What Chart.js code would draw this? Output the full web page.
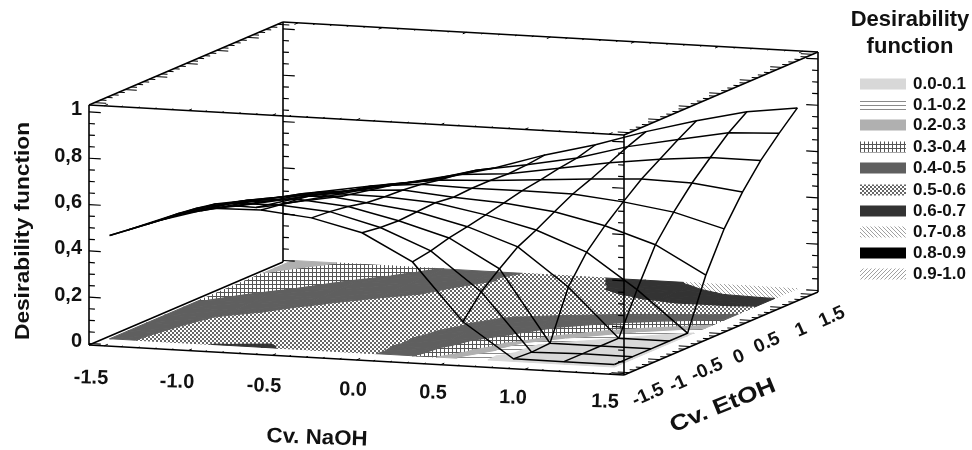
<!DOCTYPE html>
<html>
<head>
<meta charset="utf-8">
<title>Desirability function</title>
<script src="https://cdn.jsdelivr.net/npm/chart.js@4/dist/chart.umd.js"></script>
<style>
  html, body { margin: 0; padding: 0; background: #fff; }
  canvas { display: block; }
</style>
</head>
<body>
<canvas id="chart" width="972" height="450"></canvas>
<script>
// grid of the surface
const naohValues = [-1.5, -1.2, -0.9, -0.6, -0.3, 0, 0.3, 0.6, 0.9, 1.2, 1.5];
const etohValues = [-1.5, -1.2, -0.9, -0.6, -0.3, 0, 0.3, 0.6, 0.9, 1.2, 1.5];

const zNaohM15 = [0.46, 0.45, 0.44, 0.43, 0.42, 0.398, 0.377, 0.351, 0.31, 0.285, 0.265];
const zNaohM12 = [0.538, 0.533, 0.522, 0.507, 0.476, 0.45, 0.419, 0.393, 0.372, 0.335, 0.305];
const zNaohM09 = [0.602, 0.59, 0.569, 0.543, 0.517, 0.496, 0.47, 0.434, 0.413, 0.387, 0.365];
const zNaohM06 = [0.607, 0.594, 0.585, 0.574, 0.543, 0.522, 0.507, 0.481, 0.455, 0.429, 0.408];
const zNaohM03 = [0.585, 0.578, 0.566, 0.549, 0.541, 0.536, 0.527, 0.512, 0.502, 0.486, 0.462];
const zNaoh00 = [0.533, 0.522, 0.517, 0.522, 0.527, 0.517, 0.522, 0.522, 0.517, 0.522, 0.531];
const zNaohP03 = [0.419, 0.433, 0.455, 0.47, 0.487, 0.505, 0.524, 0.537, 0.553, 0.564, 0.587];
const zNaohP06 = [0.173, 0.269, 0.334, 0.395, 0.434, 0.479, 0.522, 0.553, 0.589, 0.625, 0.656];
const zNaohP09 = [0.025, 0.02, 0.025, 0.234, 0.351, 0.431, 0.5, 0.565, 0.616, 0.668, 0.715];
const zNaohP12 = [0.025, 0.025, 0.025, 0.025, 0.201, 0.361, 0.468, 0.56, 0.636, 0.709, 0.766];
const zNaohP15 = [0.025, 0.025, 0.025, 0.025, 0.025, 0.242, 0.408, 0.533, 0.636, 0.719, 0.795];

const bandLevels = [0, 0.1, 0.2, 0.3, 0.4, 0.5, 0.6, 0.7, 0.8, 0.9, 1];
const bandLabels = ["0.0-0.1", "0.1-0.2", "0.2-0.3", "0.3-0.4", "0.4-0.5", "0.5-0.6", "0.6-0.7", "0.7-0.8", "0.8-0.9", "0.9-1.0"];

const naohTickLabels = ["-1.5", "-1.0", "-0.5", "0.0", "0.5", "1.0", "1.5"];
const etohTickLabels = ["-1.5", "-1", "-0.5", "0", "0.5", "1", "1.5"];
const zTickValues = [0, 0.2, 0.4, 0.6, 0.8, 1];
const zTickLabels = ["0", "0,2", "0,4", "0,6", "0,8", "1"];

const zRows = [zNaohM15, zNaohM12, zNaohM09, zNaohM06, zNaohM03, zNaoh00, zNaohP03, zNaohP06, zNaohP09, zNaohP12, zNaohP15];

// the box runs a bit past the data on every side
const axisLo = -1.59;
const axisHi = 1.59;
const zLo = -0.0065;
const zHi = 1.03;
const floorZ = 0.014;

function project(a, b, z) {
  const u = (a - axisLo) / (axisHi - axisLo);
  const v = (b - axisLo) / (axisHi - axisLo);
  const w = (z - zLo) / (zHi - zLo);
  return { x: 89 + 535 * u + 194 * v, y: 345 + 30 * u - 83 * v - 240 * w };
}

function makePattern(size, paint) {
  const c = document.createElement("canvas");
  c.width = size;
  c.height = size;
  const ctx = c.getContext("2d");
  ctx.fillStyle = "#fff";
  ctx.fillRect(0, 0, size, size);
  paint(ctx);
  return document.createElement("canvas").getContext("2d").createPattern(c, "repeat");
}

function diagonal(color, up) {
  return makePattern(4, (ctx) => {
    ctx.fillStyle = color;
    for (let i = 0; i < 4; i++) {
      ctx.fillRect(i, up ? 3 - i : i, 1, 1);
    }
  });
}

const bandFills = [
  "#d8d8d8",
  makePattern(4, (ctx) => { ctx.fillStyle = "#8a8a8a"; ctx.fillRect(0, 1, 4, 1); }),
  "#b0b0b0",
  makePattern(4, (ctx) => { ctx.fillStyle = "#555555"; ctx.fillRect(0, 0, 4, 1); ctx.fillRect(0, 0, 1, 4); }),
  "#5f5f5f",
  makePattern(4, (ctx) => { ctx.fillStyle = "#666666"; ctx.fillRect(0, 0, 2, 2); ctx.fillRect(2, 2, 2, 2); }),
  "#333333",
  diagonal("#a0a0a0", false),
  "#000000",
  diagonal("#a0a0a0", true)
];

// keep the part of a triangle that lies between two levels
function clipAbove(poly, level, sign) {
  const out = [];
  poly.forEach((p, i) => {
    const q = poly[(i + 1) % poly.length];
    const pIn = sign * (p.z - level) >= 0;
    const qIn = sign * (q.z - level) >= 0;
    if (pIn) out.push(p);
    if (pIn !== qIn) {
      const t = (level - p.z) / (q.z - p.z);
      out.push({ a: p.a + t * (q.a - p.a), b: p.b + t * (q.b - p.b), z: level });
    }
  });
  return out;
}

function bandPolygons(lo, hi) {
  const polys = [];
  const node = (i, j) => ({ a: naohValues[i], b: etohValues[j], z: zRows[i][j] });
  for (let i = 0; i < naohValues.length - 1; i++) {
    for (let j = 0; j < etohValues.length - 1; j++) {
      const tris = [
        [node(i, j), node(i + 1, j), node(i + 1, j + 1)],
        [node(i, j), node(i + 1, j + 1), node(i, j + 1)]
      ];
      tris.forEach((tri) => {
        const clipped = clipAbove(clipAbove(tri, lo, 1), hi, -1);
        if (clipped.length > 2) polys.push(clipped);
      });
    }
  }
  return polys;
}

const datasets = [];

function addLine(points, width, order) {
  datasets.push({
    data: points,
    showLine: true,
    borderColor: "#000",
    borderWidth: width,
    pointRadius: 0,
    fill: false,
    tension: 0,
    order: order
  });
}

// floor contours
bandLabels.forEach((label, k) => {
  bandPolygons(bandLevels[k], bandLevels[k + 1]).forEach((poly) => {
    const pts = poly.map((p) => project(p.a, p.b, floorZ));
    pts.push(pts[0]);
    datasets.push({
      label: label,
      data: pts,
      showLine: true,
      borderColor: bandFills[k],
      backgroundColor: bandFills[k],
      borderWidth: 1,
      pointRadius: 0,
      fill: "shape",
      tension: 0,
      order: 30
    });
  });
});

// wire mesh
naohValues.forEach((a, i) => {
  addLine(etohValues.map((b, j) => project(a, b, zRows[i][j])), 1.5, 20);
});
etohValues.forEach((b, j) => {
  addLine(naohValues.map((a, i) => project(a, b, zRows[i][j])), 1.5, 20);
});

// box edges
function edge(a1, b1, z1, a2, b2, z2) {
  addLine([project(a1, b1, z1), project(a2, b2, z2)], 1.6, 10);
}
edge(axisLo, axisLo, zLo, axisHi, axisLo, zLo);
edge(axisHi, axisLo, zLo, axisHi, axisHi, zLo);
edge(axisLo, axisLo, zLo, axisLo, axisHi, zLo);
edge(axisLo, axisLo, zHi, axisHi, axisLo, zHi);
edge(axisHi, axisLo, zHi, axisHi, axisHi, zHi);
edge(axisHi, axisHi, zHi, axisLo, axisHi, zHi);
edge(axisLo, axisHi, zHi, axisLo, axisLo, zHi);
edge(axisLo, axisLo, zLo, axisLo, axisLo, zHi);
edge(axisLo, axisHi, zLo, axisLo, axisHi, zHi);
edge(axisHi, axisLo, zLo, axisHi, axisLo, zHi);
edge(axisHi, axisHi, zLo, axisHi, axisHi, zHi);

// ticks, kept as one broken line per group
const gap = { x: NaN, y: NaN };
const zTicks = [];
[[axisLo, axisLo, 1], [axisLo, axisHi, 1], [axisHi, axisLo, -1], [axisHi, axisHi, -1]].forEach(([a, b, dir]) => {
  for (let k = 0; k <= 20; k++) {
    const z = k * 0.05;
    const len = k % 4 === 0 ? 0.07 : 0.035;
    zTicks.push(project(a, b, z), project(a + dir * len, b, z), gap);
  }
});
addLine(zTicks, 1.2, 10);

const edgeTicks = [];
[zLo, zHi].forEach((z) => {
  for (let k = -15; k <= 15; k++) {
    const t = k / 10;
    const len = k % 5 === 0 ? 0.06 : 0.03;
    edgeTicks.push(project(t, axisLo, z), project(t, axisLo + len, z), gap);
    if (z === zHi) edgeTicks.push(project(t, axisHi, z), project(t, axisHi - len, z), gap);
    const alen = k % 5 === 0 ? 0.07 : 0.035;
    edgeTicks.push(project(axisHi, t, z), project(axisHi - alen, t, z), gap);
    if (z === zHi) edgeTicks.push(project(axisLo, t, z), project(axisLo + alen, t, z), gap);
  }
});
addLine(edgeTicks, 1, 10);

// places of the labels on the page
const naohLabelX = [91, 177, 264, 353, 433, 513, 605];
const naohLabelY = [378, 382, 386, 390, 393, 398, 402];
const etohLabelX = [648, 678, 707, 739, 767, 801, 832];
const etohLabelY = [395, 384, 370, 357, 343, 330, 317];
const legendRowY = [84, 105, 125, 147, 168, 190, 211, 232, 253, 274];

function drawText(ctx, text, x, y, font, opts) {
  const o = opts || {};
  ctx.save();
  ctx.font = font;
  ctx.fillStyle = "#111";
  ctx.textAlign = o.align || "center";
  ctx.textBaseline = "middle";
  ctx.translate(x, y);
  if (o.rotate) ctx.rotate((o.rotate * Math.PI) / 180);
  if (o.width) ctx.scale(o.width / ctx.measureText(text).width, 1);
  ctx.fillText(text, 0, 0);
  ctx.restore();
}

const labelsPlugin = {
  id: "labels",
  afterDraw(chart) {
    const ctx = chart.ctx;
    const tickFont = "bold 20px 'Liberation Sans'";
    zTickValues.forEach((z, k) => {
      const p = project(axisLo, axisLo, z);
      drawText(ctx, zTickLabels[k], 82, chart.scales.y.getPixelForValue(p.y) - 2, tickFont, { align: "right" });
    });
    naohTickLabels.forEach((t, k) => {
      drawText(ctx, t, naohLabelX[k], naohLabelY[k], tickFont, { rotate: 2 });
    });
    etohTickLabels.forEach((t, k) => {
      drawText(ctx, t, etohLabelX[k], etohLabelY[k], "bold 19px 'Liberation Sans'", { rotate: -24 });
    });
    drawText(ctx, "Cv. NaOH", 317, 438, "bold 21px 'Liberation Sans'", { rotate: 2, width: 101 });
    drawText(ctx, "Cv. EtOH", 723, 406, "bold 22px 'Liberation Sans'", { rotate: -22, width: 112 });
    drawText(ctx, "Desirability function", 23, 231, "bold 21px 'Liberation Sans'", { rotate: -90, width: 218 });

    drawText(ctx, "Desirability", 910, 20, "bold 22px 'Liberation Sans'");
    drawText(ctx, "function", 910, 47, "bold 22px 'Liberation Sans'");
    bandLabels.forEach((label, k) => {
      ctx.fillStyle = bandFills[k];
      ctx.fillRect(860, legendRowY[k] - 5.5, 46, 11);
      drawText(ctx, label, 913, legendRowY[k], "bold 17px 'Liberation Sans'", { align: "left" });
    });
  }
};

new Chart(document.getElementById("chart"), {
  type: "scatter",
  data: { datasets: datasets },
  plugins: [labelsPlugin],
  options: {
    responsive: false,
    animation: false,
    layout: { padding: 0 },
    plugins: { legend: { display: false }, tooltip: { enabled: false } },
    scales: {
      x: { type: "linear", min: 0, max: 972, display: false },
      y: { type: "linear", min: 0, max: 450, reverse: true, display: false }
    }
  }
});
</script>
</body>
</html>
